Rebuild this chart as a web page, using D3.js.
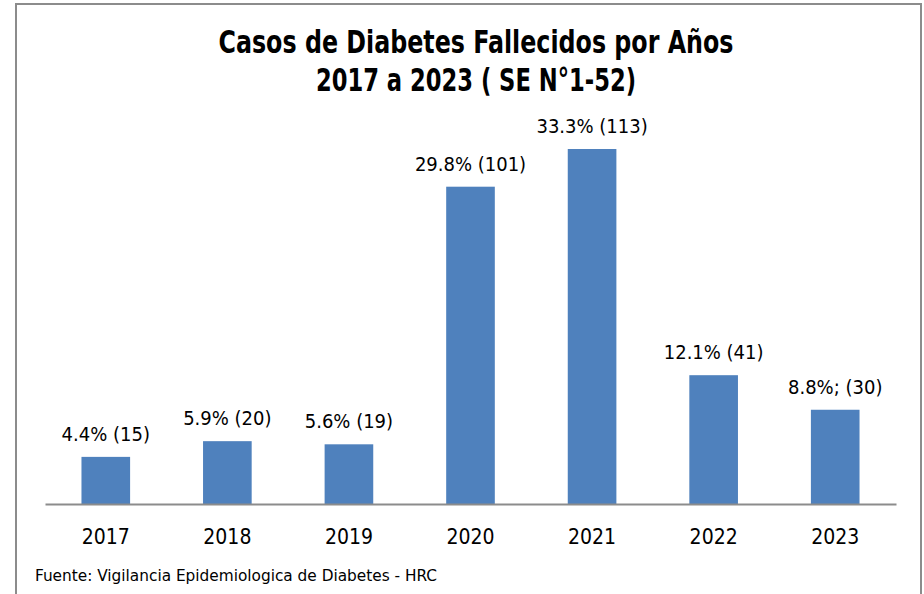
<!DOCTYPE html>
<html>
<head>
<meta charset="utf-8">
<script src="https://cdn.jsdelivr.net/npm/d3@7"></script>
<style>
  body { margin: 0; background: #fff; }
  text { font-family: "Liberation Sans Narrow", "DejaVu Sans Condensed", "Liberation Sans", sans-serif; fill: #000; }
</style>
</head>
<body>
<div id="chart"></div>
<script>
const years = ["2017", "2018", "2019", "2020", "2021", "2022", "2023"];
const cases = [15, 20, 19, 101, 113, 41, 30];
const labels = ["4.4% (15)", "5.9% (20)", "5.6% (19)", "29.8% (101)", "33.3% (113)", "12.1% (41)", "8.8%; (30)"];
const titleLines = ["Casos de Diabetes Fallecidos por Años", "2017 a 2023 ( SE N°1-52)"];
const sourceNote = "Fuente:  Vigilancia  Epidemiologica  de  Diabetes  - HRC";

const width = 924,
  height = 594;

const data = years.map((y, i) => ({ year: y, value: cases[i], label: labels[i] }));

const svg = d3
  .select("#chart")
  .append("svg")
  .attr("width", width)
  .attr("height", height);

// outer chart frame
svg
  .append("path")
  .attr("d", "M16,600 V4 H921 V600")
  .attr("fill", "none")
  .attr("stroke", "#8c8c8c")
  .attr("stroke-width", 2);

const x = d3.scaleBand().domain(years).range([45, 896]).paddingInner(0.6).paddingOuter(0.3);

const y = d3.scaleLinear().domain([0, 113]).range([504, 149]);

// title
svg
  .selectAll("text.title")
  .data(titleLines)
  .enter()
  .append("text")
  .attr("class", "title")
  .attr("x", 476)
  .attr("y", (d, i) => 53 + i * 38)
  .attr("text-anchor", "middle")
  .attr("font-weight", "bold")
  .attr("font-size", 32)
  .attr("textLength", (d, i) => (i === 0 ? 515 : 320))
  .attr("lengthAdjust", "spacingAndGlyphs")
  .text((d) => d);

// bars
svg
  .selectAll("rect.bar")
  .data(data)
  .enter()
  .append("rect")
  .attr("class", "bar")
  .attr("x", (d) => x(d.year))
  .attr("y", (d) => y(d.value))
  .attr("width", x.bandwidth())
  .attr("height", (d) => y(0) - y(d.value))
  .attr("fill", "#4f81bd");

// value labels
svg
  .selectAll("text.val")
  .data(data)
  .enter()
  .append("text")
  .attr("class", "val")
  .attr("x", (d) => x(d.year) + x.bandwidth() / 2)
  .attr("y", (d) => y(d.value) - 16)
  .attr("text-anchor", "middle")
  .attr("font-size", 20)
  .text((d) => d.label);

// x axis
const xAxis = svg
  .append("g")
  .attr("transform", `translate(0,${y(0)})`)
  .call(d3.axisBottom(x).tickSize(0).tickPadding(25));

xAxis.select(".domain").attr("stroke", "#8c8c8c").attr("stroke-width", 2);
xAxis.selectAll("text").attr("font-size", 21).attr("font-family", null);

// source note
svg
  .append("text")
  .attr("x", 35)
  .attr("y", 581)
  .attr("font-size", 16)
  .attr("textLength", 402)
  .attr("lengthAdjust", "spacingAndGlyphs")
  .text(sourceNote);
</script>
</body>
</html>
